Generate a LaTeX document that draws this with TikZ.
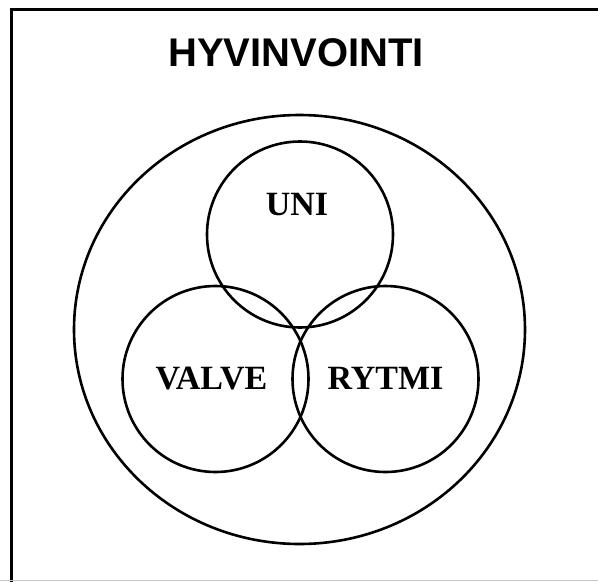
\documentclass[tikz,border=0pt]{standalone}
\usepackage{fontspec}
\setmainfont{Liberation Serif}
\newfontfamily\headfont{Liberation Sans}
\usetikzlibrary{shapes.geometric}
\begin{document}
\begin{tikzpicture}[x=1pt,y=-1pt,
  ring/.style={draw=black,line width=2.6pt,circle,inner sep=0pt,minimum size=186pt},
  outerring/.style={draw=black,line width=2.6pt,ellipse,inner sep=0pt,minimum width=451pt,minimum height=429pt},
  setlabel/.style={font=\fontsize{34}{34}\selectfont\bfseries,anchor=base,inner sep=0pt},
  frameline/.style={draw=black,line width=3pt}]
\useasboundingbox (0,0) rectangle (598,582);
\fill[white] (0,0) rectangle (598,582);
% frame (cropped on right and bottom)
\coordinate (fbl) at (11,582);
\coordinate (ftl) at (11,9);
\coordinate (ftr) at (598,9);
\draw[frameline] (fbl) -- (ftl) -- (ftr);
\coordinate (gl) at (0,580.8);
\coordinate (gr) at (598,580.8);
\draw[gray!45,line width=1.2pt] (gl) -- (gr);
% title
\node[font=\headfont\fontsize{40}{40}\selectfont\bfseries,anchor=base,inner sep=0pt] (title) at (296,66.5) {HYVINVOINTI};
% circles
\node[outerring] (outer) at (299.5,329.5) {};
\node[ring] (uni) at (300,234.5) {};
\node[ring] (valve) at (215.5,379) {};
\node[ring] (rytmi) at (385.5,379) {};
% labels
\node[setlabel] (unilabel) at (297,215) {UNI};
\node[setlabel] (valvelabel) at (211.5,389) {VALVE};
\node[setlabel] (rytmilabel) at (385.5,389) {RYTMI};
\end{tikzpicture}
\end{document}
